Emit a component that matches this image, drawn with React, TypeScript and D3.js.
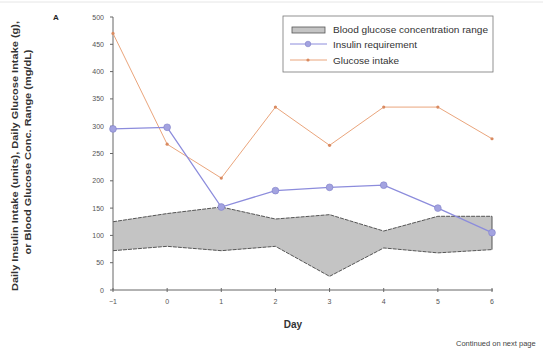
import React from 'react';
import { scaleLinear, line, area } from 'd3';

const days = [-1, 0, 1, 2, 3, 4, 5, 6];
const glucoseIntake = [470, 267, 205, 335, 265, 335, 335, 277];
const insulin = [295, 298, 152, 182, 188, 192, 150, 105];
const rangeHigh = [125, 140, 152, 130, 138, 108, 135, 135];
const rangeLow = [72, 80, 72, 80, 25, 77, 68, 74];
const yTicks = [0, 50, 100, 150, 200, 250, 300, 350, 400, 450, 500];

const App: React.FC = () => {
  const x = scaleLinear().domain([-1, 6]).range([113, 492]);
  const y = scaleLinear().domain([0, 500]).range([290, 17]);

  const rows = days.map((d, i) => ({ d, g: glucoseIntake[i], ins: insulin[i], hi: rangeHigh[i], lo: rangeLow[i] }));

  const rangeArea = area<any>().x(r => x(r.d)).y0(r => y(r.lo)).y1(r => y(r.hi));
  const hiLine = line<any>().x(r => x(r.d)).y(r => y(r.hi));
  const loLine = line<any>().x(r => x(r.d)).y(r => y(r.lo));
  const gLine = line<any>().x(r => x(r.d)).y(r => y(r.g));
  const iLine = line<any>().x(r => x(r.d)).y(r => y(r.ins));

  const font = 'Liberation Sans, Arial, sans-serif';
  const blue = '#8c8cdc';
  const orange = '#eaa57c';

  return (
    <svg width={543} height={349} style={{ position: 'absolute', left: 0, top: 0 }} fontFamily={font}>
      <rect width={543} height={349} fill="#fff" />
      <line x1={0} x2={543} y1={2} y2={2} stroke="#e6e6e6" />

      {/* range band */}
      <path d={rangeArea(rows)!} fill="#c4c4c4" />
      <path d={hiLine(rows)!} fill="none" stroke="#555" strokeWidth={1} strokeDasharray="4,1" />
      <path d={loLine(rows)!} fill="none" stroke="#555" strokeWidth={1} strokeDasharray="4,1" />
      <line x1={x(6)} x2={x(6)} y1={y(rangeHigh[7])} y2={y(rangeLow[7])} stroke="#555" />

      {/* axes */}
      <line x1={113} x2={113} y1={y(500)} y2={290} stroke="#666" />
      <line x1={113} x2={493} y1={290} y2={290} stroke="#666" />
      {yTicks.map(t => (
        <g key={t}>
          <line x1={110} x2={113} y1={y(t)} y2={y(t)} stroke="#666" />
          <text x={104} y={y(t) + 2.5} fontSize={7} fill="#555" textAnchor="end">{t}</text>
        </g>
      ))}
      {days.map(d => (
        <g key={d}>
          <line x1={x(d)} x2={x(d)} y1={288} y2={292} stroke="#666" />
          <text x={x(d)} y={304} fontSize={7} fill="#555" textAnchor="middle">{d === -1 ? '\u22121' : d}</text>
        </g>
      ))}

      {/* series */}
      <path d={gLine(rows)!} fill="none" stroke={orange} strokeWidth={1} />
      {rows.map(r => (
        <circle key={'g' + r.d} cx={x(r.d)} cy={y(r.g)} r={1.6} fill="#d98a60" />
      ))}
      <path d={iLine(rows)!} fill="none" stroke={blue} strokeWidth={1.3} />
      {rows.map(r => (
        <circle key={'i' + r.d} cx={x(r.d)} cy={y(r.ins)} r={3.4} fill="#a3a3e0" stroke="#8080c8" strokeWidth={0.6} />
      ))}

      {/* legend */}
      <rect x={283} y={16} width={210} height={56} fill="#fff" stroke="#777" strokeWidth={0.8} />
      <rect x={292} y={27} width={33} height={6} fill="#c4c4c4" stroke="#555" strokeWidth={0.8} />
      <text x={333} y={33} fontSize={9} fill="#333" textLength={155} lengthAdjust="spacingAndGlyphs">Blood glucose concentration range</text>
      <line x1={290} x2={327} y1={44} y2={44} stroke={blue} strokeWidth={1} />
      <circle cx={308} cy={44} r={2.8} fill="#a3a3e0" stroke="#8080c8" strokeWidth={0.6} />
      <text x={333} y={47.5} fontSize={9} fill="#333" textLength={84} lengthAdjust="spacingAndGlyphs">Insulin requirement</text>
      <line x1={290} x2={327} y1={60} y2={60} stroke={orange} strokeWidth={1} />
      <circle cx={308} cy={60} r={1.6} fill="#d98a60" />
      <text x={333} y={63.5} fontSize={9} fill="#333" textLength={66} lengthAdjust="spacingAndGlyphs">Glucose intake</text>

      {/* titles */}
      <text x={53} y={20} fontSize={8} fontWeight="bold" fill="#222">A</text>
      <text x={293} y={328} fontSize={10} fontWeight="bold" fill="#333" textAnchor="middle">Day</text>
      <text transform="translate(18,156) rotate(-90)" fontSize={8.5} fontWeight="bold" fill="#333" textAnchor="middle"
        textLength={270} lengthAdjust="spacingAndGlyphs">
        Daily Insulin Intake (units), Daily Glucose Intake (g),
      </text>
      <text transform="translate(31,152) rotate(-90)" fontSize={8.5} fontWeight="bold" fill="#333" textAnchor="middle"
        textLength={205} lengthAdjust="spacingAndGlyphs">
        or Blood Glucose Conc. Range (mg/dL)
      </text>
      <text x={456} y={346} fontSize={7.5} fill="#444">Continued on next page</text>
    </svg>
  );
};

export default App;
